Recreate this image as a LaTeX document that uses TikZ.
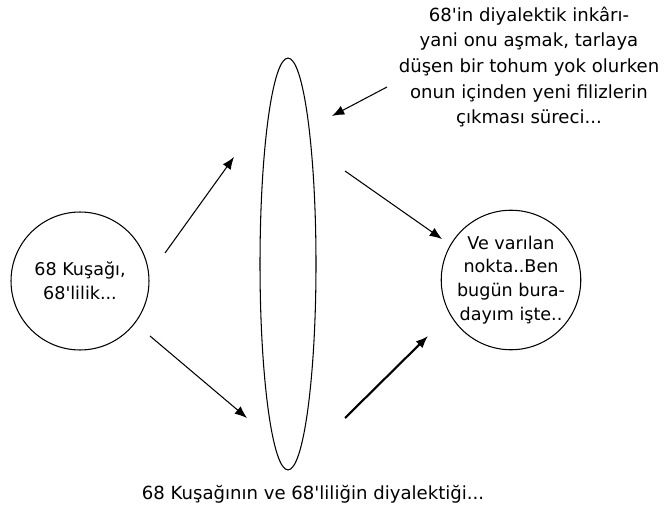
\documentclass[tikz,border=0pt]{standalone}
\usepackage{fontspec}
\setmainfont{DejaVu Sans}
\usetikzlibrary{shapes.geometric, arrows.meta, positioning}

\begin{document}
\begin{tikzpicture}[
    x=0.02cm, y=-0.02cm,
    blob/.style={draw, circle, line width=0.6pt, minimum size=2.76cm, inner sep=0pt, align=center, font=\fontsize{10}{13.6}\selectfont},
    lens/.style={draw, ellipse, line width=0.6pt, minimum width=1.12cm, minimum height=8.24cm, inner sep=0pt},
    arrow/.style={-{Latex[length=7pt, width=5.5pt]}, line width=0.6pt},
    lbl/.style={align=center, font=\fontsize{10.3}{14.6}\selectfont}
]
    \useasboundingbox (0,0) rectangle (669,513);

    % ilk daire
    \node[blob] (kusak) at (80, 281) {68 Kuşağı,\\68\textquotesingle lilik...};

    % diyalektik mercek
    \node[lens] (mercek) at (288, 264) {};

    % varilan nokta
    \node[blob] (nokta) at (511, 280) {Ve varılan\\nokta..Ben\\bugün bura-\\dayım işte..};

    % aciklamalar
    \node[lbl] (inkar) at (529, 67) {68\textquotesingle in diyalektik inkârı-\\yani onu aşmak, tarlaya\\düşen bir tohum yok olurken\\onun içinden yeni filizlerin\\çıkması süreci...};
    \node[lbl] (alt) at (313, 494) {68 Kuşağının ve 68\textquotesingle liliğin diyalektiği...};

    % ok uclari
    \coordinate (a1) at (165, 253); \coordinate (b1) at (234, 157);
    \coordinate (a2) at (150, 336); \coordinate (b2) at (247, 418);
    \coordinate (a3) at (345, 171); \coordinate (b3) at (442, 239);
    \coordinate (a4) at (345, 418); \coordinate (b4) at (428, 336);
    \coordinate (a5) at (387, 87);  \coordinate (b5) at (332, 116);

    % oklar
    \draw[arrow] (a1) -- (b1);
    \draw[arrow] (a2) -- (b2);
    \draw[arrow] (a3) -- (b3);
    \draw[arrow, line width=1.2pt] (a4) -- (b4);
    \draw[arrow] (a5) -- (b5);
\end{tikzpicture}
\end{document}
